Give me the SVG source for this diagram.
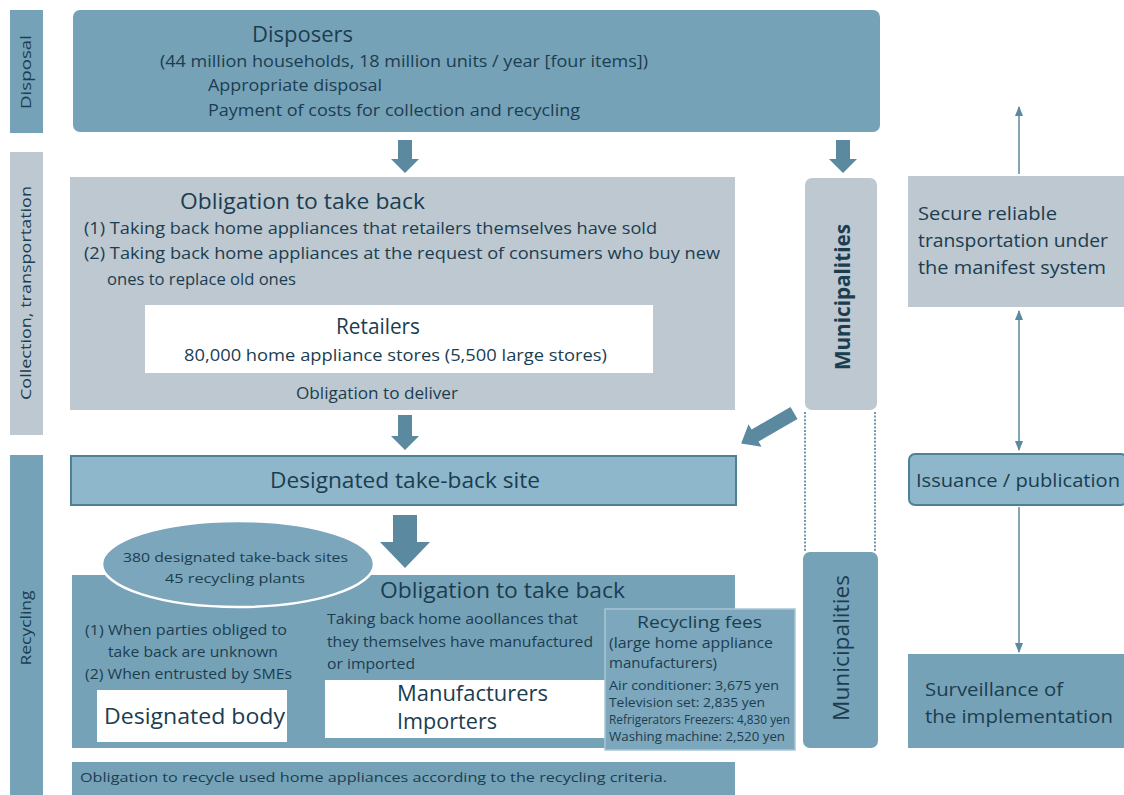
<svg xmlns="http://www.w3.org/2000/svg" width="1124" height="795" viewBox="0 0 1124 795">
<style>
text{font-family:"Open Sans","Liberation Sans",sans-serif;fill:#1b3d50}
.blue{fill:#76a2b8}
.gray{fill:#bdc8d0}
.light{fill:#8fb7cb;stroke:#4e8096;stroke-width:2}
.white{fill:#ffffff}
.arr{fill:#5b8aa0}
.ln{stroke:#5b8aa0;stroke-width:1.5;fill:none}
.dot{stroke:#6e98ad;stroke-width:2;stroke-dasharray:2 1.6;fill:none}
.t22{font-size:22px}
.t21{font-size:21px}
.t19{font-size:19px}
.t16{font-size:16px}
.t15{font-size:15px}
.t14{font-size:14.5px}
.t13{font-size:13.5px}
.t12{font-size:12.5px}
</style>
<defs>
<marker id="ah" viewBox="0 0 10 10" refX="9" refY="5" markerWidth="7" markerHeight="7" orient="auto-start-reverse">
<path d="M0,1 L10,5 L0,9 Z" fill="#5b8aa0"/>
</marker>
</defs>
<rect width="1124" height="795" fill="#ffffff"/>

<g id="band-disposal">
<rect x="10" y="10" width="33" height="123" class="blue"/>
<text class="t15" transform="translate(31,72) rotate(-90)" text-anchor="middle" textLength="74" lengthAdjust="spacingAndGlyphs">Disposal</text>
</g>
<g id="band-collection">
<rect x="10" y="152" width="33" height="283" class="gray"/>
<text class="t15" transform="translate(31,293) rotate(-90)" text-anchor="middle" textLength="214" lengthAdjust="spacingAndGlyphs">Collection, transportation</text>
</g>
<g id="band-recycling">
<rect x="10" y="455" width="33" height="340" class="blue"/>
<text class="t15" transform="translate(31,628) rotate(-90)" text-anchor="middle" textLength="75" lengthAdjust="spacingAndGlyphs">Recycling</text>
</g>

<g id="disposers">
<rect x="73" y="10" width="807" height="122" rx="7" class="blue"/>
<text class="t22" x="252" y="42" textLength="101" lengthAdjust="spacingAndGlyphs">Disposers</text>
<text class="t16" x="160" y="67" textLength="488" lengthAdjust="spacingAndGlyphs">(44 million households, 18 million units / year [four items])</text>
<text class="t16" x="208" y="91" textLength="174" lengthAdjust="spacingAndGlyphs">Appropriate disposal</text>
<text class="t16" x="208" y="116" textLength="372" lengthAdjust="spacingAndGlyphs">Payment of costs for collection and recycling</text>
</g>

<g id="retailer-obligation">
<rect x="70" y="177" width="665" height="233" class="gray"/>
<text class="t21" x="180" y="209" textLength="245" lengthAdjust="spacingAndGlyphs">Obligation to take back</text>
<text class="t16" x="84" y="234" textLength="573" lengthAdjust="spacingAndGlyphs">(1) Taking back home appliances that retailers themselves have sold</text>
<text class="t16" x="84" y="259" textLength="636" lengthAdjust="spacingAndGlyphs">(2) Taking back home appliances at the request of consumers who buy new</text>
<text class="t16" x="107" y="285" textLength="189" lengthAdjust="spacingAndGlyphs">ones to replace old ones</text>
<text class="t16" x="296" y="399" textLength="162" lengthAdjust="spacingAndGlyphs">Obligation to deliver</text>
</g>
<g id="retailers">
<rect x="145" y="305" width="508" height="68" class="white"/>
<text class="t21" x="336" y="334" textLength="84" lengthAdjust="spacingAndGlyphs">Retailers</text>
<text class="t16" x="184" y="361" textLength="423" lengthAdjust="spacingAndGlyphs">80,000 home appliance stores (5,500 large stores)</text>
</g>

<g id="municipalities-top">
<rect x="805" y="178" width="72" height="232" rx="7" class="gray"/>
<text class="t21" font-weight="bold" transform="translate(850,297) rotate(-90)" text-anchor="middle" textLength="146" lengthAdjust="spacingAndGlyphs">Municipalities</text>
</g>

<g id="take-back-site">
<rect x="71" y="456" width="665" height="49" class="light"/>
<text class="t22" x="270" y="488" textLength="270" lengthAdjust="spacingAndGlyphs">Designated take-back site</text>
</g>

<g id="recycling-obligation">
<rect x="72" y="575" width="663" height="173" class="blue"/>
<text class="t21" x="380" y="598" textLength="245" lengthAdjust="spacingAndGlyphs">Obligation to take back</text>
<text class="t14" x="327" y="624" textLength="251" lengthAdjust="spacingAndGlyphs">Taking back home aoollances that</text>
<text class="t14" x="327" y="647" textLength="266" lengthAdjust="spacingAndGlyphs">they themselves have manufactured</text>
<text class="t14" x="327" y="669" textLength="88" lengthAdjust="spacingAndGlyphs">or imported</text>
<text class="t14" x="85" y="635" textLength="202" lengthAdjust="spacingAndGlyphs">(1) When parties obliged to</text>
<text class="t14" x="108" y="657" textLength="170" lengthAdjust="spacingAndGlyphs">take back are unknown</text>
<text class="t14" x="85" y="679" textLength="207" lengthAdjust="spacingAndGlyphs">(2) When entrusted by SMEs</text>
</g>
<g id="sites-ellipse">
<ellipse cx="238" cy="564" rx="136" ry="43" fill="#7ca6bb" stroke="#ffffff" stroke-width="2.5"/>
<text class="t13" x="123" y="562" textLength="225" lengthAdjust="spacingAndGlyphs">380 designated take-back sites</text>
<text class="t13" x="165" y="583" textLength="140" lengthAdjust="spacingAndGlyphs">45 recycling plants</text>
</g>
<g id="designated-body">
<rect x="97" y="690" width="190" height="52" class="white"/>
<text class="t22" x="104" y="724" textLength="181" lengthAdjust="spacingAndGlyphs">Designated body</text>
</g>
<g id="manufacturers">
<rect x="325" y="680" width="285" height="58" class="white"/>
<text class="t22" x="397" y="701" textLength="151" lengthAdjust="spacingAndGlyphs">Manufacturers</text>
<text class="t22" x="397" y="729" textLength="100" lengthAdjust="spacingAndGlyphs">Importers</text>
</g>
<g id="recycling-fees">
<rect x="605" y="609" width="190" height="141" fill="#7ca7bc" stroke="#a9c6d4" stroke-width="1.5"/>
<text class="t16" x="637" y="628" textLength="125" lengthAdjust="spacingAndGlyphs">Recycling fees</text>
<text class="t14" x="609" y="648" textLength="164" lengthAdjust="spacingAndGlyphs">(large home appliance</text>
<text class="t14" x="609" y="668" textLength="108" lengthAdjust="spacingAndGlyphs">manufacturers)</text>
<text class="t12" x="609" y="690" textLength="170" lengthAdjust="spacingAndGlyphs">Air conditioner: 3,675 yen</text>
<text class="t12" x="609" y="707" textLength="156" lengthAdjust="spacingAndGlyphs">Television set: 2,835 yen</text>
<text class="t12" x="609" y="724" textLength="181" lengthAdjust="spacingAndGlyphs">Refrigerators Freezers: 4,830 yen</text>
<text class="t12" x="609" y="741" textLength="176" lengthAdjust="spacingAndGlyphs">Washing machine: 2,520 yen</text>
</g>
<g id="recycle-criteria">
<rect x="72" y="762" width="663" height="33" class="blue"/>
<text class="t13" x="80" y="782" textLength="587" lengthAdjust="spacingAndGlyphs">Obligation to recycle used home appliances according to the recycling criteria.</text>
</g>

<g id="municipalities-bottom">
<rect x="803" y="552" width="75" height="196" rx="7" class="blue"/>
<text class="t21" transform="translate(849,648) rotate(-90)" text-anchor="middle" textLength="146" lengthAdjust="spacingAndGlyphs">Municipalities</text>
</g>

<g id="secure">
<rect x="908" y="176" width="216" height="131" class="gray"/>
<text class="t19" x="918" y="220" textLength="139" lengthAdjust="spacingAndGlyphs">Secure reliable</text>
<text class="t19" x="918" y="247" textLength="190" lengthAdjust="spacingAndGlyphs">transportation under</text>
<text class="t19" x="918" y="274" textLength="188" lengthAdjust="spacingAndGlyphs">the manifest system</text>
</g>
<g id="issuance">
<rect x="909" y="454" width="218" height="51" rx="6" class="light"/>
<text class="t19" x="916" y="487" textLength="204" lengthAdjust="spacingAndGlyphs">Issuance / publication</text>
</g>
<g id="surveillance">
<rect x="908" y="654" width="216" height="94" class="blue"/>
<text class="t19" x="925" y="696" textLength="138" lengthAdjust="spacingAndGlyphs">Surveillance of</text>
<text class="t19" x="925" y="723" textLength="188" lengthAdjust="spacingAndGlyphs">the implementation</text>
</g>

<g id="connectors">
<path class="arr" d="M398,140 H412 V159 H419 L405,173 L391,159 H398 Z"/>
<path class="arr" d="M836,140 H850 V159 H857 L843,173 L829,159 H836 Z"/>
<path class="arr" d="M398,415 H412 V436 H419 L405,450 L391,436 H398 Z"/>
<path class="arr" d="M393,515 H417 V542 H430 L405,568 L380,542 H393 Z"/>
<path class="arr" transform="translate(794,413) rotate(150)" d="M0,-7 H45 V-13 L61,0 L45,13 V7 H0 Z"/>
<path class="dot" d="M805,412 V551 M875,412 V551"/>
<path class="ln" d="M1019,174 V107" marker-end="url(#ah)"/>
<path class="ln" d="M1019,450 V311" marker-start="url(#ah)" marker-end="url(#ah)"/>
<path class="ln" d="M1019,507 V652" marker-end="url(#ah)"/>
</g>
</svg>
